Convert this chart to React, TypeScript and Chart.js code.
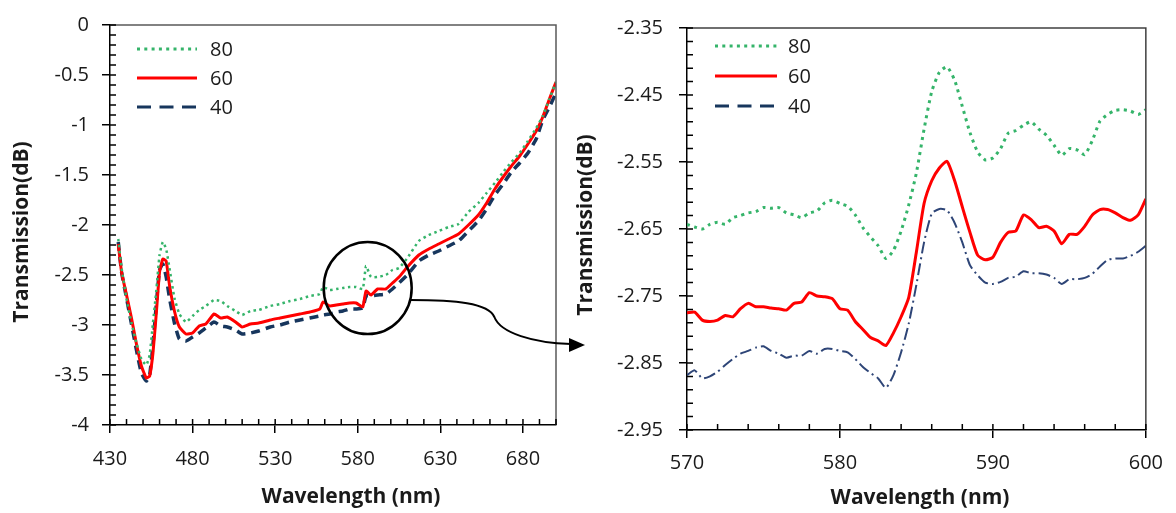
import React, { useEffect, useRef } from 'react';
import { Chart, registerables } from 'chart.js';

Chart.register(...registerables);

// ---------------- DATA ----------------
const SERIES_LABELS = ['80', '60', '40'];

// Left panel: full spectrum
const leftWavelength = [
  435, 437, 440, 443, 446, 449, 452, 454, 456, 458,
  460, 462, 464, 466, 469, 472, 476, 480, 484, 488,
  493, 497, 501, 506, 510, 515, 520, 527, 533, 539,
  545, 551, 557, 559, 563, 567, 571, 575, 579, 583,
  585, 588, 592, 597, 601, 605, 610, 617, 623, 629,
  635, 641, 647, 653, 658, 663, 668, 673, 678, 683,
  688, 692, 696, 700,
];
const left80 = [
  -2.14, -2.43, -2.74, -2.98, -3.18, -3.34, -3.40, -3.30, -2.98, -2.66,
  -2.30, -2.17, -2.24, -2.43, -2.73, -2.89, -2.97, -2.91, -2.85, -2.81,
  -2.75, -2.76, -2.81, -2.86, -2.90, -2.86, -2.85, -2.81, -2.79, -2.76,
  -2.74, -2.71, -2.69, -2.62, -2.65, -2.64, -2.63, -2.62, -2.62, -2.64,
  -2.41, -2.52, -2.52, -2.50, -2.45, -2.43, -2.33, -2.16, -2.10, -2.06,
  -2.02, -1.99, -1.87, -1.78, -1.68, -1.58, -1.47, -1.37, -1.28, -1.16,
  -1.03, -0.91, -0.74, -0.57,
];
const left60 = [
  -2.19, -2.47, -2.70, -2.93, -3.19, -3.41, -3.53, -3.51, -3.28, -2.89,
  -2.47, -2.34, -2.36, -2.60, -2.86, -3.02, -3.09, -3.08, -3.01, -2.99,
  -2.89, -2.93, -2.92, -2.97, -3.02, -2.99, -2.98, -2.95, -2.93, -2.91,
  -2.89, -2.87, -2.84, -2.77, -2.81, -2.80, -2.79, -2.78, -2.78, -2.82,
  -2.66, -2.70, -2.64, -2.64, -2.58, -2.52, -2.42, -2.30, -2.24, -2.19,
  -2.14, -2.09, -2.00, -1.90, -1.78, -1.64, -1.52, -1.41, -1.31, -1.19,
  -1.06, -0.92, -0.74, -0.57,
];
const left40 = [
  -2.17, -2.47, -2.73, -2.99, -3.25, -3.48, -3.56, -3.50, -3.20, -2.80,
  -2.45, -2.39, -2.52, -2.73, -2.98, -3.14, -3.16, -3.12, -3.08, -3.03,
  -2.97, -3.01, -3.02, -3.05, -3.09, -3.08, -3.06, -3.02, -3.00, -2.97,
  -2.95, -2.93, -2.91, -2.90, -2.89, -2.87, -2.86, -2.84, -2.84, -2.83,
  -2.71, -2.71, -2.70, -2.69, -2.64, -2.58, -2.50, -2.36, -2.30, -2.26,
  -2.21, -2.16, -2.06, -1.96, -1.84, -1.70, -1.59, -1.47, -1.38, -1.28,
  -1.14, -0.95, -0.82, -0.68,
];
const leftXTicks = [430, 480, 530, 580, 630, 680];
const leftYTicks = [0, -0.5, -1, -1.5, -2, -2.5, -3, -3.5, -4];

// Right panel: zoom 570-600 nm
const rightWavelength = [
  570, 570.5, 571, 571.5, 572, 572.5, 573, 573.5, 574, 574.5,
  575, 575.5, 576, 576.5, 577, 577.5, 578, 578.5, 579, 579.5,
  580, 580.5, 581, 581.5, 582, 582.5, 583, 583.5, 584, 584.5,
  585, 585.5, 586, 586.5, 587, 587.5, 588, 588.5, 589, 589.5,
  590, 590.5, 591, 591.5, 592, 592.5, 593, 593.5, 594, 594.5,
  595, 595.5, 596, 596.5, 597, 597.5, 598, 598.5, 599, 599.5,
  600,
];
const right80 = [
  -2.643, -2.647, -2.650, -2.643, -2.640, -2.643, -2.633, -2.630, -2.626, -2.624,
  -2.618, -2.619, -2.618, -2.626, -2.629, -2.633, -2.626, -2.623, -2.611, -2.607,
  -2.612, -2.616, -2.629, -2.648, -2.662, -2.675, -2.694, -2.682, -2.653, -2.614,
  -2.566, -2.501, -2.445, -2.416, -2.408, -2.428, -2.467, -2.506, -2.535, -2.547,
  -2.544, -2.530, -2.507, -2.503, -2.495, -2.490, -2.501, -2.510, -2.525, -2.540,
  -2.530, -2.532, -2.539, -2.518, -2.489, -2.479, -2.473, -2.472, -2.474, -2.479,
  -2.472,
];
const right60 = [
  -2.775, -2.774, -2.786, -2.788, -2.786, -2.779, -2.781, -2.769, -2.761, -2.766,
  -2.766, -2.768, -2.769, -2.771, -2.761, -2.759, -2.745, -2.750, -2.751, -2.754,
  -2.769, -2.771, -2.788, -2.800, -2.812, -2.817, -2.824, -2.805, -2.781, -2.752,
  -2.684, -2.612, -2.578, -2.559, -2.549, -2.578, -2.617, -2.655, -2.689, -2.696,
  -2.692, -2.670, -2.655, -2.653, -2.629, -2.636, -2.648, -2.646, -2.653, -2.672,
  -2.658, -2.658, -2.646, -2.629, -2.621, -2.621, -2.626, -2.633, -2.637, -2.629,
  -2.605,
];
const right40 = [
  -2.868, -2.861, -2.873, -2.870, -2.863, -2.853, -2.844, -2.836, -2.832, -2.827,
  -2.825, -2.832, -2.836, -2.842, -2.839, -2.839, -2.832, -2.836, -2.829, -2.829,
  -2.832, -2.834, -2.844, -2.856, -2.865, -2.873, -2.887, -2.868, -2.834, -2.791,
  -2.733, -2.670, -2.627, -2.620, -2.622, -2.641, -2.670, -2.704, -2.719, -2.730,
  -2.732, -2.729, -2.723, -2.721, -2.713, -2.716, -2.716, -2.718, -2.723, -2.732,
  -2.725, -2.725, -2.723, -2.717, -2.706, -2.696, -2.694, -2.694, -2.690, -2.684,
  -2.675,
];
const rightXTicks = [570, 580, 590, 600];
const rightYTicks = [-2.35, -2.45, -2.55, -2.65, -2.75, -2.85, -2.95];

// ---------------- STYLE ----------------
const FONT_FAMILY = '"Open Sans", sans-serif';
const TEXT_COLOR = '#1a1a1a';
const GREEN = '#35b46a';
const RED = '#ff0000';
const NAVY = '#17365d';
const NAVY_LIGHT = '#2e4577';
const TICK_SIZE = 20;
const TITLE_SIZE = 21;

const pts = (xs: number[], ys: number[]) => xs.map((x, i) => ({ x, y: ys[i] }));

const decorPlugin = {
  id: 'decor',
  afterDraw(chart: any, _args: any, o: any) {
    const { ctx, chartArea: a, scales } = chart;
    ctx.save();
    // plot frame (top / right)
    ctx.lineWidth = 1.5;
    ctx.strokeStyle = o.frameColor;
    ctx.beginPath();
    ctx.moveTo(a.left, a.top);
    ctx.lineTo(a.right, a.top);
    ctx.lineTo(a.right, a.bottom);
    ctx.stroke();
    // inner minor ticks
    ctx.strokeStyle = '#000';
    ctx.beginPath();
    const xs = scales.x;
    const ys = scales.y;
    const nx = Math.round((xs.max - xs.min) / o.xMinor);
    for (let i = 0; i <= nx; i++) {
      const px = xs.getPixelForValue(xs.min + i * o.xMinor);
      ctx.moveTo(px, a.bottom);
      ctx.lineTo(px, a.bottom - o.len);
    }
    const ny = Math.round((ys.max - ys.min) / o.yMinor);
    for (let i = 0; i <= ny; i++) {
      const py = ys.getPixelForValue(ys.min + i * o.yMinor);
      ctx.moveTo(a.left, py);
      ctx.lineTo(a.left + o.len, py);
    }
    ctx.stroke();
    // axis titles
    ctx.fillStyle = TEXT_COLOR;
    ctx.font = `bold ${TITLE_SIZE}px ${FONT_FAMILY}`;
    ctx.textAlign = 'center';
    ctx.textBaseline = 'middle';
    for (const t of o.titles) {
      ctx.save();
      ctx.translate(t.x, t.y);
      ctx.rotate(t.rot || 0);
      ctx.fillText(t.text, 0, 0);
      ctx.restore();
    }
    // legend
    ctx.font = `${TICK_SIZE}px ${FONT_FAMILY}`;
    ctx.textAlign = 'left';
    o.legend.forEach((it: any, i: number) => {
      const ds = chart.data.datasets[i];
      ctx.save();
      ctx.strokeStyle = it.color || ds.borderColor;
      ctx.lineWidth = it.width;
      ctx.setLineDash(it.dash);
      ctx.lineCap = 'butt';
      ctx.beginPath();
      ctx.moveTo(it.x1, it.y);
      ctx.lineTo(it.x2, it.y);
      ctx.stroke();
      ctx.restore();
      ctx.fillStyle = TEXT_COLOR;
      ctx.fillText(ds.label, it.tx, it.y + 1);
    });
    // annotation (circle + arrow)
    if (o.annot) {
      const an = o.annot;
      const cx = xs.getPixelForValue(an.x);
      const cy = ys.getPixelForValue(an.y);
      ctx.strokeStyle = '#000';
      ctx.lineWidth = 2.5;
      ctx.setLineDash([]);
      ctx.beginPath();
      ctx.ellipse(cx, cy, an.rx, an.ry, 0, 0, Math.PI * 2);
      ctx.stroke();
      const sx = cx + an.rx * 0.97;
      const sy = cy + 12;
      const tip = an.tip;
      ctx.lineWidth = 2;
      ctx.beginPath();
      ctx.moveTo(sx, sy);
      ctx.bezierCurveTo(sx + 45, sy, sx + 78, sy + 3, sx + 84, sy + 17);
      ctx.bezierCurveTo(sx + 90, sy + 33, sx + 123, sy + 43, tip.x - 14, tip.y - 1);
      ctx.stroke();
      ctx.fillStyle = '#000';
      ctx.beginPath();
      ctx.moveTo(tip.x, tip.y);
      ctx.lineTo(tip.x - 16, tip.y - 7);
      ctx.lineTo(tip.x - 16, tip.y + 7);
      ctx.closePath();
      ctx.fill();
    }
    ctx.restore();
  },
};

function makeScales(p: {
  xMin: number; xMax: number; xTicks: number[]; xHeight: number; xPad: number;
  yMin: number; yMax: number; yTicks: number[]; yWidth: number; yPad: number; yFmt: (v: number) => string;
}) {
  const font = { family: FONT_FAMILY, size: TICK_SIZE };
  return {
    x: {
      type: 'linear',
      min: p.xMin,
      max: p.xMax,
      afterBuildTicks: (s: any) => { s.ticks = p.xTicks.map((v) => ({ value: v })); },
      afterFit: (s: any) => { s.height = p.xHeight; },
      grid: { drawOnChartArea: false, drawTicks: true, tickLength: 8, color: '#000', lineWidth: 1.5 },
      border: { display: true, color: '#000', width: 1.5 },
      ticks: { font, color: TEXT_COLOR, padding: p.xPad, maxRotation: 0, autoSkip: false, callback: (v: any) => String(v) },
    },
    y: {
      type: 'linear',
      min: p.yMin,
      max: p.yMax,
      afterBuildTicks: (s: any) => { s.ticks = p.yTicks.map((v) => ({ value: v })); },
      afterFit: (s: any) => { s.width = p.yWidth; },
      grid: { drawOnChartArea: false, drawTicks: true, tickLength: 8, color: '#000', lineWidth: 1.5 },
      border: { display: true, color: '#000', width: 1.5 },
      ticks: { font, color: TEXT_COLOR, padding: p.yPad, autoSkip: false, callback: (v: any) => p.yFmt(Number(v)) },
    },
  };
}

function leftConfig(): any {
  return {
    type: 'line',
    data: {
      datasets: [
        { label: SERIES_LABELS[0], data: pts(leftWavelength, left80), borderColor: GREEN, borderWidth: 2.5, borderDash: [2.5, 3.5] },
        { label: SERIES_LABELS[1], data: pts(leftWavelength, left60), borderColor: RED, borderWidth: 3 },
        { label: SERIES_LABELS[2], data: pts(leftWavelength, left40), borderColor: NAVY, borderWidth: 3.5, borderDash: [9, 6] },
      ],
    },
    options: {
      responsive: false,
      animation: false,
      events: [],
      layout: { padding: { left: 0, top: 16, right: 620, bottom: 0 } },
      elements: { point: { radius: 0 }, line: { tension: 0.15, borderCapStyle: 'butt', fill: false } },
      plugins: {
        legend: { display: false },
        tooltip: { enabled: false },
        decor: {
          frameColor: '#5a5a5a',
          xMinor: 10,
          yMinor: 0.1,
          len: 6,
          titles: [
            { text: 'Transmission(dB)', x: 22, y: 232, rot: -Math.PI / 2 },
            { text: 'Wavelength (nm)', x: 351, y: 497 },
          ],
          legend: [
            { x1: 137, x2: 197, tx: 210, y: 49, width: 3, dash: [3, 4.3] },
            { x1: 137, x2: 197, tx: 210, y: 78, width: 3, dash: [] },
            { x1: 137, x2: 197, tx: 210, y: 107, width: 3, dash: [14, 8.5] },
          ],
          annot: { x: 586, y: -2.63, rx: 44, ry: 46, tip: { x: 585, y: 345 } },
        },
      },
      scales: makeScales({
        xMin: 430, xMax: 700, xTicks: leftXTicks, xHeight: 88, xPad: 14,
        yMin: -4, yMax: 0, yTicks: leftYTicks, yWidth: 110, yPad: 13, yFmt: (v) => String(v),
      }),
    },
    plugins: [decorPlugin],
  };
}

function rightConfig(): any {
  return {
    type: 'line',
    data: {
      datasets: [
        { label: SERIES_LABELS[0], data: pts(rightWavelength, right80), borderColor: GREEN, borderWidth: 3, borderDash: [3, 4.5] },
        { label: SERIES_LABELS[1], data: pts(rightWavelength, right60), borderColor: RED, borderWidth: 3 },
        { label: SERIES_LABELS[2], data: pts(rightWavelength, right40), borderColor: NAVY_LIGHT, borderWidth: 2, borderDash: [12, 4, 2, 4] },
      ],
    },
    options: {
      responsive: false,
      animation: false,
      events: [],
      layout: { padding: { left: 580, top: 16, right: 27, bottom: 0 } },
      elements: { point: { radius: 0 }, line: { tension: 0.2, borderCapStyle: 'butt', fill: false } },
      plugins: {
        legend: { display: false },
        tooltip: { enabled: false },
        decor: {
          frameColor: '#404040',
          xMinor: 2,
          yMinor: 0.02,
          len: 6,
          titles: [
            { text: 'Transmission(dB)', x: 586, y: 225, rot: -Math.PI / 2 },
            { text: 'Wavelength (nm)', x: 920, y: 498 },
          ],
          legend: [
            { x1: 715, x2: 777, tx: 788, y: 46, width: 3, dash: [3, 4.3] },
            { x1: 715, x2: 777, tx: 788, y: 76, width: 3, dash: [] },
            { x1: 715, x2: 777, tx: 788, y: 106, width: 3, dash: [14, 8.5], color: NAVY },
          ],
        },
      },
      scales: makeScales({
        xMin: 570, xMax: 600, xTicks: rightXTicks, xHeight: 83, xPad: 13,
        yMin: -2.95, yMax: -2.35, yTicks: rightYTicks, yWidth: 107, yPad: 16, yFmt: (v) => v.toFixed(2),
      }),
    },
    plugins: [decorPlugin],
  };
}

export default function App() {
  const leftRef = useRef<HTMLCanvasElement>(null);
  const rightRef = useRef<HTMLCanvasElement>(null);

  useEffect(() => {
    const c1 = new Chart(leftRef.current as HTMLCanvasElement, leftConfig());
    const c2 = new Chart(rightRef.current as HTMLCanvasElement, rightConfig());
    return () => {
      c1.destroy();
      c2.destroy();
    };
  }, []);

  return (
    <div style={{ position: 'absolute', left: 0, top: 0, width: 1176, height: 513, background: '#ffffff' }}>
      <canvas ref={leftRef} width={1176} height={513} style={{ position: 'absolute', left: 0, top: 0 }} />
      <canvas ref={rightRef} width={1176} height={513} style={{ position: 'absolute', left: 0, top: 0 }} />
    </div>
  );
}
